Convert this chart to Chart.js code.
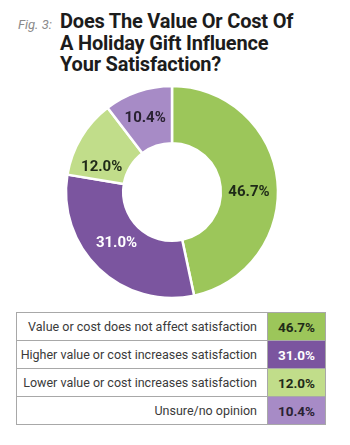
<!DOCTYPE html>
<html>
<head>
<meta charset="utf-8">
<script src="https://cdn.jsdelivr.net/npm/chart.js@4.4.0/dist/chart.umd.min.js"></script>
<style>
    body { margin: 0; width: 350px; height: 445px; background: #fff; position: relative; overflow: hidden; font-family: Roboto, sans-serif; }
    #fig { position: absolute; left: 18px; top: 17px; font-style: italic; color: #8a8a8a; font-size: 13px; }
    #title { position: absolute; left: 60px; top: 11px; font-weight: 700; font-size: 20px; line-height: 21.5px; color: #1c1c1c; letter-spacing: -0.2px; }
    #wrap { position: absolute; left: 0; top: 80px; width: 350px; height: 224px; }
    #legend { position: absolute; left: 16px; top: 312px; border-collapse: collapse; }
    #legend td { border: 1px solid #a8a8a8; height: 27px; padding: 0; font-size: 12.5px; color: #3a3a3a; }
    #legend td.lab { width: 240px; text-align: right; padding-right: 10px; }
    #legend td.val { width: 57px; text-align: center; font-weight: 700; font-size: 13.5px; }
</style>
</head>
<body>
<div id="fig">Fig. 3:</div>
<div id="title">Does The Value Or Cost Of<br>A Holiday Gift Influence<br>Your Satisfaction?</div>
<div id="wrap"><canvas id="myChart"></canvas></div>
<table id="legend"></table>
<script>
// data
var labels = [
    'Value or cost does not affect satisfaction',
    'Higher value or cost increases satisfaction',
    'Lower value or cost increases satisfaction',
    'Unsure/no opinion',
];
var values = [46.7, 31.0, 12.0, 10.4];
var colors = ['#9cc65a', '#7b559f', '#c1dd8a', '#a78bc6'];
var textColors = ['#1f2a18', '#ffffff', '#1f2a18', '#2a2233'];

// table under the chart
var table = document.getElementById('legend');
for (let i = 0; i < labels.length; i++) {
    let tr = document.createElement('tr');
    let td1 = document.createElement('td');
    td1.className = 'lab';
    td1.textContent = labels[i];
    let td2 = document.createElement('td');
    td2.className = 'val';
    td2.textContent = values[i].toFixed(1) + '%';
    td2.style.background = colors[i];
    td2.style.color = textColors[i];
    tr.appendChild(td1);
    tr.appendChild(td2);
    table.appendChild(tr);
}

// draws the % value inside each slice
var sliceLabels = {
    id: 'sliceLabels',
    afterDatasetsDraw(chart, args, opts) {
        const ctx = chart.ctx;
        const meta = chart.getDatasetMeta(0);
        ctx.save();
        ctx.font = '700 15px Roboto, sans-serif';
        ctx.textAlign = 'center';
        ctx.textBaseline = 'middle';
        meta.data.forEach(function (arc, i) {
            const p = arc.getCenterPoint();
            const off = opts.offsets[i] || [0, 0];
            ctx.fillStyle = textColors[i];
            ctx.fillText(values[i].toFixed(1) + '%', p.x + off[0], p.y + off[1]);
        });
        ctx.restore();
    },
};

var ctx = document.getElementById('myChart');
var chart = new Chart(ctx, {
    type: 'doughnut',
    data: {
        labels: labels,
        datasets: [
            {
                data: values,
                backgroundColor: colors,
                borderColor: '#ffffff',
                borderWidth: 2.5,
                hoverOffset: 0,
            },
        ],
    },
    options: {
        responsive: true,
        maintainAspectRatio: false,
        animation: false,
        radius: 106,
        cutout: 51,
        layout: { padding: { right: 6 } },
        events: [],
        plugins: {
            legend: { display: false },
            tooltip: { enabled: false },
            sliceLabels: { offsets: [[0, 8], [-2, -5], [-4, 15], [-2, 0]] },
        },
    },
    plugins: [sliceLabels],
});
</script>
</body>
</html>
